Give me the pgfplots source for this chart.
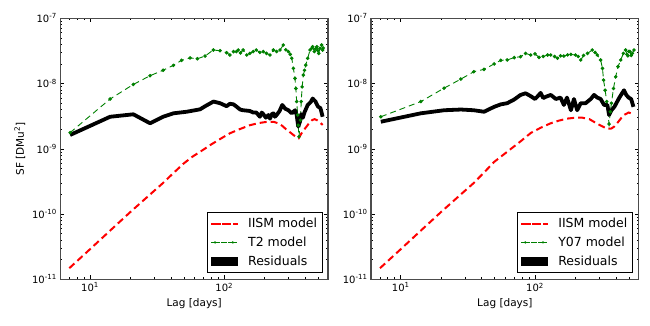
\documentclass[border=0pt]{standalone}
\usepackage{fontspec}
\setmainfont{DejaVu Sans}
\usepackage{pgfplots}
\pgfplotsset{compat=1.18}

\definecolor{mplgreen}{RGB}{0,128,0}

\pgfplotsset{
  iism/.style={red, line width=2pt, dash pattern=on 7pt off 4pt,
    /pgfplots/legend image code/.code={\draw[red, line width=2pt, solid, line cap=butt] (4pt,0pt) -- (10pt,0pt) (14pt,0pt) -- (20pt,0pt); \path (0pt,0pt) -- (27pt,0pt);}},
  model/.style={mplgreen, line width=0.9pt, dash pattern=on 6pt off 4pt,
    mark=*, mark size=1.3pt, mark options={solid, fill=mplgreen},
    /pgfplots/legend image code/.code={\draw[mplgreen, line width=0.9pt, solid] (4pt,0pt) -- (9pt,0pt) (16.7pt,0pt) -- (21.7pt,0pt);
      \fill[mplgreen, draw=none] (4pt,0pt) circle (1.3pt) (21.7pt,0pt) circle (1.3pt); \path (0pt,0pt) -- (27pt,0pt);}},
  resid/.style={black, line width=3.8pt, line join=round,
    /pgfplots/legend image code/.code={\fill[black, draw=none] (0pt,-4.7pt) rectangle (27pt,4.7pt);}},
}

\begin{document}
\begin{tikzpicture}
\path (0pt,0pt) rectangle (650pt,325pt);

\begin{axis}[at={(60.3pt,45.7pt)}, anchor=south west,
    xmode=log, ymode=log,
    scale only axis, width=267.7pt, height=261pt,
    xmin=6, xmax=592, ymin=1e-11, ymax=1e-7,
    xtick={10,100},
    xticklabels={10\textsuperscript{1},10\textsuperscript{2}},
    minor xtick={6,7,8,9,20,30,40,50,60,70,80,90,200,300,400,500},
    ytick={1e-11,1e-10,1e-9,1e-8,1e-7},
    yticklabels={10\textsuperscript{-11},10\textsuperscript{-10},10\textsuperscript{-9},10\textsuperscript{-8},10\textsuperscript{-7}},
    minor ytick={2e-11,3e-11,4e-11,5e-11,6e-11,7e-11,8e-11,9e-11,2e-10,3e-10,4e-10,5e-10,6e-10,7e-10,8e-10,9e-10,2e-9,3e-9,4e-9,5e-9,6e-9,7e-9,8e-9,9e-9,2e-8,3e-8,4e-8,5e-8,6e-8,7e-8,8e-8,9e-8},
    tick label style={font=\fontsize{10}{12}\selectfont},
    label style={font=\fontsize{10.5}{12}\selectfont},
    xlabel={Lag [days]},
    ylabel={SF [DMu\textsuperscript{2}]},
    major tick length=4pt, minor tick length=2pt,
    tick style={black, line width=0.6pt},
    axis line style={line width=1.1pt, black!70},
    legend cell align=left,
    legend style={at={(1,0)}, anchor=south east, xshift=-5.5pt, yshift=6.8pt,
      draw=black, line width=0.8pt, font=\fontsize{12.5}{14}\selectfont,
      inner xsep=3pt, inner ysep=3.4pt, row sep=3.8pt, column sep=7pt}]
\addplot[iism] coordinates {
 (7,1.48e-11) (10,2.9e-11) (14,5.5e-11) (20,1.08e-10) (28,2.0e-10) (35,3.0e-10)
 (42,4.3e-10) (50,6.0e-10) (58,7.6e-10) (66,9.0e-10) (80,1.17e-9) (95,1.45e-9)
 (110,1.73e-9) (130,2.0e-9) (155,2.3e-9) (180,2.48e-9) (210,2.6e-9) (235,2.58e-9)
 (252,2.46e-9) (270,2.25e-9) (292,1.95e-9) (310,1.78e-9) (327,1.63e-9) (345,1.5e-9)
 (358,1.45e-9) (374,1.7e-9) (392,1.95e-9) (410,2.2e-9) (430,2.5e-9) (450,2.75e-9)
 (470,2.85e-9) (490,2.75e-9) (515,2.55e-9) (540,2.32e-9)
};
\addlegendentry{IISM model}
\addplot[model] coordinates {
 (7.1,1.77e-9) (14.1,5.8e-9) (21,9.7e-9) (28,1.32e-8) (35,1.6e-8) (41.7,1.9e-8)
 (48,2.27e-8) (55.6,2.47e-8) (63,2.4e-8) (71.8,2.64e-8) (82.8,3.27e-8) (93,3.19e-8)
 (104,2.97e-8) (110,2.74e-8) (117,3.09e-8) (123,3.09e-8) (127,3.27e-8) (132,2.95e-8)
 (138,3.27e-8) (147,2.74e-8) (155,2.9e-8) (164,3.09e-8) (173,3.27e-8) (184,3.0e-8)
 (195,3.09e-8) (206,2.9e-8) (219,2.74e-8) (232,3.27e-8) (245,3.1e-8) (260,3.27e-8)
 (275,3.9e-8) (287,3.3e-8) (300,3.09e-8) (310,2.8e-8) (318,2.44e-8) (327,1.71e-8)
 (336,1.2e-8) (341,8.4e-9) (346,5.3e-9) (352,3.3e-9) (355,2.3e-9) (360,1.53e-9)
 (369,2.75e-9) (374,5.3e-9) (380,8.9e-9) (388,1.35e-8) (396,1.6e-8) (404,1.92e-8)
 (418,2.44e-8) (435,3.27e-8) (447,3.47e-8) (455,3.67e-8) (468,3.1e-8) (478,3.4e-8)
 (489,3.67e-8) (497,3.2e-8) (505,2.9e-8) (516,3.47e-8) (531,3.9e-8) (540,3.27e-8)
 (545,3.5e-8)
};
\addlegendentry{T2 model}
\addplot[resid] coordinates {
 (7.1,1.63e-9) (14.1,3.1e-9) (21,3.38e-9) (28,2.46e-9) (35,3.1e-9) (41.7,3.5e-9)
 (52.5,3.7e-9) (66,4.03e-9) (72,4.5e-9) (83,5.3e-9) (93,5.0e-9) (104,4.5e-9)
 (110,4.9e-9) (117,4.8e-9) (123,4.45e-9) (131,4.0e-9) (138,3.9e-9) (147,3.85e-9)
 (155,3.8e-9) (164,3.6e-9) (173,3.6e-9) (184,3.1e-9) (190,3.6e-9) (195,3.4e-9)
 (204,3.0e-9) (213,3.3e-9) (219,2.9e-9) (226,3.4e-9) (232,3.5e-9) (238,3.1e-9)
 (245,3.3e-9) (258,3.8e-9) (270,4.7e-9) (285,4.1e-9) (300,3.9e-9) (318,3.5e-9)
 (336,3.9e-9) (346,3.3e-9) (355,2.2e-9) (366,2.6e-9) (374,3.4e-9) (385,3.0e-9)
 (395,3.6e-9) (418,4.7e-9) (440,5.2e-9) (455,5.9e-9) (465,5.6e-9) (478,5.3e-9)
 (498,4.45e-9) (520,4.2e-9) (540,3.1e-9)
};
\addlegendentry{Residuals}
\end{axis}

\begin{axis}[at={(371pt,45.7pt)}, anchor=south west,
    xmode=log, ymode=log,
    scale only axis, width=267.7pt, height=261pt,
    xmin=6, xmax=592, ymin=1e-11, ymax=1e-7,
    xtick={10,100},
    xticklabels={10\textsuperscript{1},10\textsuperscript{2}},
    minor xtick={6,7,8,9,20,30,40,50,60,70,80,90,200,300,400,500},
    ytick={1e-11,1e-10,1e-9,1e-8,1e-7},
    yticklabels={10\textsuperscript{-11},10\textsuperscript{-10},10\textsuperscript{-9},10\textsuperscript{-8},10\textsuperscript{-7}},
    minor ytick={2e-11,3e-11,4e-11,5e-11,6e-11,7e-11,8e-11,9e-11,2e-10,3e-10,4e-10,5e-10,6e-10,7e-10,8e-10,9e-10,2e-9,3e-9,4e-9,5e-9,6e-9,7e-9,8e-9,9e-9,2e-8,3e-8,4e-8,5e-8,6e-8,7e-8,8e-8,9e-8},
    tick label style={font=\fontsize{10}{12}\selectfont},
    label style={font=\fontsize{10.5}{12}\selectfont},
    xlabel={Lag [days]},
    major tick length=4pt, minor tick length=2pt,
    tick style={black, line width=0.6pt},
    axis line style={line width=1.1pt, black!70},
    legend cell align=left,
    legend style={at={(1,0)}, anchor=south east, xshift=-6pt, yshift=6.8pt,
      draw=black, line width=0.8pt, font=\fontsize{12.5}{14}\selectfont,
      inner xsep=3pt, inner ysep=3.4pt, row sep=3.8pt, column sep=7pt}]
\addplot[iism] coordinates {
 (7,1.48e-11) (10,2.9e-11) (14,5.5e-11) (20,1.08e-10) (28,2.0e-10) (35,3.0e-10)
 (42,4.4e-10) (49.6,6.3e-10) (62,9.0e-10) (78,1.3e-9) (93,1.75e-9) (110,2.1e-9)
 (130,2.45e-9) (150,2.7e-9) (173,2.9e-9) (200,3.0e-9) (225,3.0e-9) (254,2.85e-9)
 (283,2.5e-9) (318,2.2e-9) (346,2.02e-9) (371,2.05e-9) (390,2.2e-9) (411,2.5e-9)
 (435,2.9e-9) (460,3.3e-9) (498,3.6e-9) (520,3.5e-9) (540,3.35e-9)
};
\addlegendentry{IISM model}
\addplot[model] coordinates {
 (7.1,3.1e-9) (14.1,5.3e-9) (21,8.5e-9) (28,1.17e-8) (35,1.52e-8) (41.7,1.65e-8)
 (49.6,2.0e-8) (55.6,2.27e-8) (62,2.3e-8) (70,2.5e-8) (78,2.58e-8) (85,2.9e-8)
 (93,2.74e-8) (100,2.85e-8) (107,2.52e-8) (115,2.6e-8) (124,2.74e-8) (131,2.74e-8)
 (140,2.6e-8) (147,2.44e-8) (155,2.66e-8) (164,2.64e-8) (175,2.75e-8) (185,2.8e-8)
 (200,2.74e-8) (210,2.6e-8) (219,2.3e-8) (230,2.7e-8) (246,2.9e-8) (267,3.27e-8)
 (280,3.0e-8) (291,2.74e-8) (308,2.3e-8) (318,1.71e-8) (324,1.13e-8) (333,7.9e-9)
 (342,5.3e-9) (356,2.4e-9) (364,3.7e-9) (371,5.0e-9) (384,8.4e-9) (399,1.27e-8)
 (415,1.82e-8) (435,2.3e-8) (455,2.9e-8) (473,3.27e-8) (483,2.8e-8) (492,2.66e-8)
 (500,3.1e-8) (509,3.1e-8) (520,2.7e-8) (531,2.9e-8) (546,3.27e-8)
};
\addlegendentry{Y07 model}
\addplot[resid] coordinates {
 (7.1,2.6e-9) (14.1,3.5e-9) (21,3.9e-9) (28,4.0e-9) (35,3.9e-9) (41.7,3.7e-9)
 (49.6,4.4e-9) (55.6,4.8e-9) (62,5.0e-9) (70,5.7e-9) (78,6.7e-9) (85,7.1e-9)
 (93,6.4e-9) (100,5.8e-9) (107,6.7e-9) (110,7.2e-9) (115,6.0e-9) (121,6.3e-9)
 (131,6.7e-9) (143,5.8e-9) (155,6.1e-9) (164,4.7e-9) (173,6.1e-9) (185,3.9e-9)
 (195,5.8e-9) (206,3.9e-9) (219,5.0e-9) (238,5.0e-9) (260,5.8e-9) (275,6.7e-9)
 (291,6.1e-9) (308,5.8e-9) (327,4.7e-9) (346,4.7e-9) (356,3.3e-9) (371,3.9e-9)
 (390,4.4e-9) (425,6.1e-9) (460,7.9e-9) (478,6.7e-9) (498,6.1e-9) (520,5.8e-9)
 (541,4.4e-9)
};
\addlegendentry{Residuals}
\end{axis}
\end{tikzpicture}
\end{document}
